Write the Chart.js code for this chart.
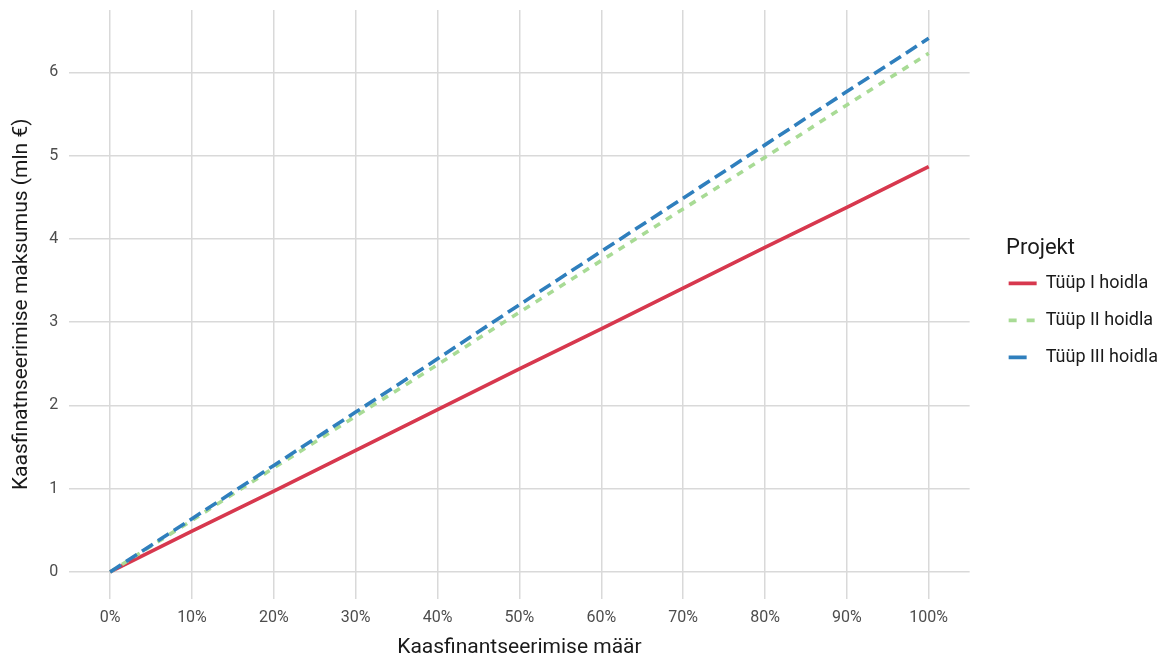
<!DOCTYPE html>
<html><head><meta charset="utf-8">
<script src="https://cdn.jsdelivr.net/npm/chart.js@4"></script>
<style>html,body{margin:0;padding:0;background:#fff}#wrap{width:1160px;height:658px}</style>
</head><body><div id="wrap"><canvas id="c"></canvas></div>
<script>
const rates = [0, 0.1, 0.2, 0.3, 0.4, 0.5, 0.6, 0.7, 0.8, 0.9, 1.0];
const xTickLabels = ["0%","10%","20%","30%","40%","50%","60%","70%","80%","90%","100%"];
const yTicks = [0, 1, 2, 3, 4, 5, 6];
const seriesNames = ["Tüüp I hoidla", "Tüüp II hoidla", "Tüüp III hoidla"];
const typeI = [0, 0.49, 0.97, 1.46, 1.95, 2.44, 2.92, 3.41, 3.90, 4.38, 4.87];
const typeII = [0, 0.62, 1.25, 1.87, 2.49, 3.12, 3.74, 4.36, 4.98, 5.61, 6.23];
const typeIII = [0, 0.64, 1.28, 1.92, 2.56, 3.21, 3.85, 4.49, 5.13, 5.77, 6.41];

const FONT = "'Roboto', sans-serif";
const toPts = arr => arr.map((v, i) => ({x: rates[i], y: v}));
const legendDash = [[], [8, 10], [18, 10]];

new Chart(document.getElementById('c'), {
  type: 'line',
  data: {
    datasets: [
      {label: seriesNames[0], data: toPts(typeI), borderColor: '#d7384e', borderWidth: 3.6, pointRadius: 0, order: 3},
      {label: seriesNames[1], data: toPts(typeII), borderColor: '#a8db95', borderWidth: 3.6, borderDash: [7, 7], pointRadius: 0, order: 2},
      {label: seriesNames[2], data: toPts(typeIII), borderColor: '#2f7fbd', borderWidth: 3.6, borderDash: [13, 6], pointRadius: 0, order: 1}
    ]
  },
  options: {
    responsive: true, maintainAspectRatio: false, animation: false,
    layout: {padding: {left: 6, right: -8, top: 10, bottom: -2}},
    plugins: {
      tooltip: {enabled: false},
      legend: {
        position: 'right',
        align: 'start',
        title: {display: true, text: '   Projekt', position: 'start', color: '#1a1a1a', font: {family: FONT, size: 22}, padding: {top: 227, bottom: -8}},
        labels: {
          sort: (a, b) => a.datasetIndex - b.datasetIndex,
          generateLabels: chart => Chart.defaults.plugins.legend.labels.generateLabels(chart).map(it => {
            const ds = chart.data.datasets[it.datasetIndex];
            it.lineDash = legendDash[it.datasetIndex];
            it.lineWidth = 3.6;
            it.strokeStyle = ds.borderColor;
            it.fillStyle = ds.borderColor;
            return it;
          }),
          usePointStyle: true, pointStyle: 'line', pointStyleWidth: 28,
          boxHeight: 3, color: '#1a1a1a', font: {family: FONT, size: 18}, padding: 19
        }
      }
    },
    scales: {
      x: {
        type: 'linear', min: -0.05, max: 1.05,
        afterBuildTicks: s => { s.ticks = rates.map(v => ({value: v})); },
        ticks: {callback: (v, i) => xTickLabels[i], color: '#4d4d4d', font: {family: FONT, size: 16}, padding: 10, maxRotation: 0},
        grid: {color: '#d9d9d9', lineWidth: 1.5, drawTicks: false},
        border: {display: false},
        title: {display: true, text: 'Kaasfinantseerimise määr', color: '#1a1a1a', font: {family: FONT, size: 21}, padding: {top: -3, bottom: 0}}
      },
      y: {
        type: 'linear', min: -0.32, max: 6.75,
        afterBuildTicks: s => { s.ticks = yTicks.map(v => ({value: v})); },
        afterFit: s => { s.paddingTop = 0; s.paddingBottom = 0; },
        ticks: {callback: v => String(v), color: '#4d4d4d', font: {family: FONT, size: 16}, padding: 11},
        grid: {color: '#d9d9d9', lineWidth: 1.5, drawTicks: false},
        border: {display: false},
        title: {display: true, text: 'Kaasfinatnseerimise maksumus (mln €)', color: '#1a1a1a', font: {family: FONT, size: 21}, padding: {top: 3, bottom: 4}}
      },
      gap: {
        type: 'linear', position: 'right', display: true,
        ticks: {display: false}, grid: {display: false}, border: {display: false},
        afterFit: s => { s.width = 20; s.paddingTop = 0; s.paddingBottom = 0; }
      }
    }
  }
});
</script></body></html>
